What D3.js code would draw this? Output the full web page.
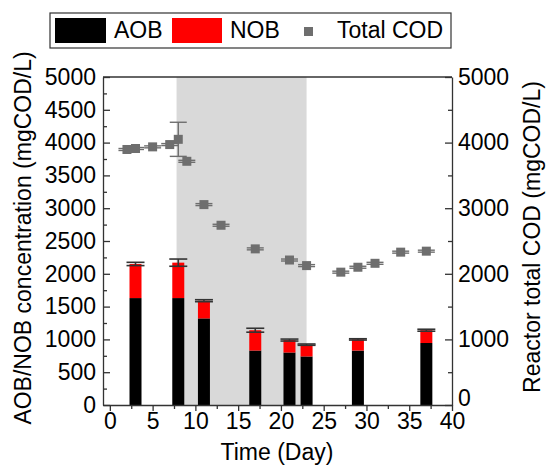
<!DOCTYPE html>
<html>
<head>
<meta charset="utf-8">
<script src="https://cdn.jsdelivr.net/npm/d3@7"></script>
<style>
  body { margin: 0; background: #fff; }
  svg text { font-family: "Liberation Sans", Arial, sans-serif; fill: #000; }
</style>
</head>
<body>
<div id="chart"></div>
<script>
// bars: AOB / NOB stacked
const barDays = [3, 8, 11, 17, 21, 23, 29, 37];
const aob = [1630, 1630, 1320, 830, 800, 740, 830, 945];
const nob = [520, 540, 270, 310, 190, 180, 170, 195];
const barErr = [25, 55, 15, 30, 15, 10, 10, 15];

// reactor total COD
const codDays = [2, 3, 5, 7, 8, 9, 11, 13, 17, 21, 23, 27, 29, 31, 34, 37];
const cod = [3895, 3910, 3935, 3970, 4050, 3715, 3055, 2740, 2380, 2210, 2125, 2025, 2100, 2160, 2330, 2345];
const codErr = [15, 15, 15, 15, 260, 15, 15, 15, 15, 15, 15, 15, 15, 15, 15, 15];

// shaded period
const shade = [7.8, 23];

const xTicks = [0, 5, 10, 15, 20, 25, 30, 35, 40];
const leftTicks = [0, 500, 1000, 1500, 2000, 2500, 3000, 3500, 4000, 4500, 5000];
const rightTicks = [0, 1000, 2000, 3000, 4000, 5000];

const width = 546, height = 467;
const margin = { top: 77, right: 94, bottom: 62, left: 103 };
const fs = "23px";

const svg = d3.select("#chart").append("svg")
  .attr("width", width)
  .attr("height", height);

const x = d3.scaleLinear().domain([-0.8, 40]).range([margin.left, width - margin.right]);
const yL = d3.scaleLinear().domain([0, 5000]).range([height - margin.bottom, margin.top]);
const yR = d3.scaleLinear().domain([0, 5000]).range([height - margin.bottom, margin.top]);

// grey period
svg.append("rect")
  .attr("x", x(shade[0]))
  .attr("y", margin.top)
  .attr("width", x(shade[1]) - x(shade[0]))
  .attr("height", yL(0) - margin.top)
  .attr("fill", "#d9d9d9");

const barW = 12;
const bars = barDays.map((d, i) => ({ day: d, aob: aob[i], nob: nob[i], err: barErr[i] }));

svg.append("g").selectAll("rect")
  .data(bars).enter().append("rect")
  .attr("x", d => x(d.day) - barW / 2)
  .attr("y", d => yL(d.aob))
  .attr("width", barW)
  .attr("height", d => yL(0) - yL(d.aob))
  .attr("fill", "#000");

svg.append("g").selectAll("rect")
  .data(bars).enter().append("rect")
  .attr("x", d => x(d.day) - barW / 2)
  .attr("y", d => yL(d.aob + d.nob))
  .attr("width", barW)
  .attr("height", d => yL(d.aob) - yL(d.aob + d.nob))
  .attr("fill", "#ff0000");

// bar error bars
const capW = 18;
const be = svg.append("g").attr("stroke", "#333").attr("stroke-width", 1.6);
bars.forEach(d => {
  const t = d.aob + d.nob;
  const cx = x(d.day);
  be.append("line").attr("x1", cx).attr("x2", cx).attr("y1", yL(t + d.err)).attr("y2", yL(t - d.err));
  be.append("line").attr("x1", cx - capW / 2).attr("x2", cx + capW / 2).attr("y1", yL(t + d.err)).attr("y2", yL(t + d.err));
  be.append("line").attr("x1", cx - capW / 2).attr("x2", cx + capW / 2).attr("y1", yL(t - d.err)).attr("y2", yL(t - d.err));
});

// COD points with error bars
const pts = codDays.map((d, i) => ({ day: d, v: cod[i], err: codErr[i] }));
const ce = svg.append("g").attr("stroke", "#6e6e6e").attr("stroke-width", 1.4);
pts.forEach(d => {
  const cx = x(d.day);
  ce.append("line").attr("x1", cx).attr("x2", cx).attr("y1", yR(d.v + d.err)).attr("y2", yR(d.v - d.err));
  ce.append("line").attr("x1", cx - 8.5).attr("x2", cx + 8.5).attr("y1", yR(d.v + d.err)).attr("y2", yR(d.v + d.err));
  ce.append("line").attr("x1", cx - 8.5).attr("x2", cx + 8.5).attr("y1", yR(d.v - d.err)).attr("y2", yR(d.v - d.err));
});
const ms = 9;
svg.append("g").selectAll("rect")
  .data(pts).enter().append("rect")
  .attr("x", d => x(d.day) - ms / 2)
  .attr("y", d => yR(d.v) - ms / 2)
  .attr("width", ms)
  .attr("height", ms)
  .attr("fill", "#6e6e6e");

// axes
const axisColor = "#333";
function styleAxis(g) {
  g.selectAll("path").attr("stroke", axisColor).attr("stroke-width", 1.3);
  g.selectAll("line").attr("stroke", axisColor).attr("stroke-width", 1.3);
  g.selectAll("text").style("font-size", fs);
}

// minor ticks first
svg.append("g")
  .attr("transform", `translate(${margin.left},0)`)
  .call(d3.axisRight(yL).tickValues(d3.range(250, 5000, 500)).tickSize(4).tickFormat(""))
  .call(g => g.select(".domain").remove())
  .call(styleAxis);
svg.append("g")
  .attr("transform", `translate(${width - margin.right},0)`)
  .call(d3.axisLeft(yR).tickValues(d3.range(500, 5000, 1000)).tickSize(4).tickFormat(""))
  .call(g => g.select(".domain").remove())
  .call(styleAxis);
svg.append("g")
  .attr("transform", `translate(0,${yL(0)})`)
  .call(d3.axisBottom(x).tickValues(d3.range(2.5, 40, 5)).tickSize(4).tickFormat(""))
  .call(g => g.select(".domain").remove())
  .call(styleAxis);

// left axis, ticks inward
const gl = svg.append("g")
  .attr("transform", `translate(${margin.left},0)`)
  .call(d3.axisRight(yL).tickValues(leftTicks).tickSize(7).tickSizeOuter(0).tickFormat(d3.format("d")))
  .call(styleAxis);
gl.selectAll("text").attr("x", -7).attr("text-anchor", "end");

// right axis, ticks inward
const gr = svg.append("g")
  .attr("transform", `translate(${width - margin.right},0)`)
  .call(d3.axisLeft(yR).tickValues(rightTicks).tickSize(7).tickSizeOuter(0).tickFormat(d3.format("d")))
  .call(styleAxis);
gr.selectAll("text").attr("x", 6).attr("text-anchor", "start");
gr.selectAll(".tick").filter(d => d === 0).select("text").attr("dy", "0em");

// bottom axis
svg.append("g")
  .attr("transform", `translate(0,${yL(0)})`)
  .call(d3.axisBottom(x).tickValues(xTicks).tickSize(6).tickSizeOuter(0).tickPadding(2))
  .call(styleAxis);

// top frame
svg.append("line")
  .attr("x1", margin.left).attr("x2", width - margin.right)
  .attr("y1", margin.top).attr("y2", margin.top)
  .attr("stroke", axisColor).attr("stroke-width", 1.3);

// axis titles
svg.append("text")
  .attr("x", 277).attr("y", 460)
  .attr("text-anchor", "middle")
  .style("font-size", "23px")
  .text("Time (Day)");

svg.append("text")
  .attr("transform", `translate(31,238) rotate(-90)`)
  .attr("text-anchor", "middle")
  .style("font-size", "23px")
  .text("AOB/NOB concentration (mgCOD/L)");

svg.append("text")
  .attr("transform", `translate(540,237) rotate(-90)`)
  .attr("text-anchor", "middle")
  .style("font-size", "23px")
  .text("Reactor total COD (mgCOD/L)");

// legend
const lg = svg.append("g");
lg.append("rect")
  .attr("x", 50).attr("y", 13).attr("width", 401).attr("height", 35)
  .attr("fill", "#fff").attr("stroke", "#333").attr("stroke-width", 1.2);
lg.append("rect").attr("x", 55).attr("y", 18).attr("width", 51).attr("height", 25).attr("fill", "#000");
lg.append("text").attr("x", 114).attr("y", 38).style("font-size", fs).text("AOB");
lg.append("rect").attr("x", 172).attr("y", 18).attr("width", 50).attr("height", 25).attr("fill", "#ff0000");
lg.append("text").attr("x", 230).attr("y", 38).style("font-size", fs).text("NOB");
lg.append("rect").attr("x", 304).attr("y", 27).attr("width", 9).attr("height", 9).attr("fill", "#6e6e6e");
lg.append("text").attr("x", 337).attr("y", 38).style("font-size", fs).text("Total COD");
</script>
</body>
</html>
